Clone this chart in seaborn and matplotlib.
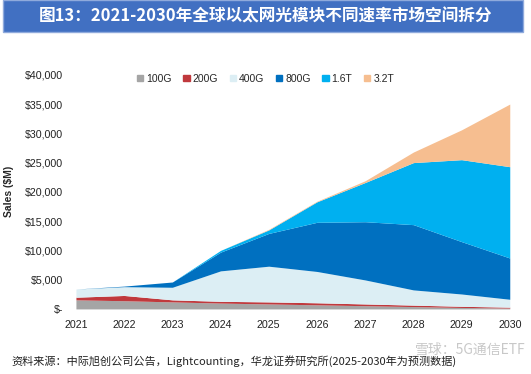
import numpy as np
import pandas as pd
import matplotlib.pyplot as plt
import seaborn as sns
from matplotlib.patches import Patch, Rectangle
from matplotlib.ticker import FuncFormatter

years = [2021, 2022, 2023, 2024, 2025, 2026, 2027, 2028, 2029, 2030]
sales_100g = [1550, 1400, 1200, 1000, 850, 700, 550, 400, 250, 150]
sales_200g = [450, 900, 350, 300, 350, 350, 300, 250, 200, 150]
sales_400g = [1400, 1500, 2150, 5200, 6100, 5350, 4100, 2600, 2100, 1350]
sales_800g = [0, 100, 900, 3200, 5600, 8400, 9950, 11150, 8950, 7050]
sales_1_6t = [0, 0, 0, 300, 600, 3500, 6700, 10600, 14000, 15600]
sales_3_2t = [0, 0, 0, 0, 100, 100, 300, 1800, 5100, 10700]
series_names = ['100G', '200G', '400G', '800G', '1.6T', '3.2T']
colors = ['#A5A5A5', '#C0393D', '#DCEEF4', '#0070C0', '#00B0F0', '#F6BE90']

df = pd.DataFrame({'year': years, '100G': sales_100g, '200G': sales_200g,
                   '400G': sales_400g, '800G': sales_800g,
                   '1.6T': sales_1_6t, '3.2T': sales_3_2t})

sns.set_theme(style="white")
plt.rcParams['font.family'] = ['Liberation Sans', 'Noto Sans CJK SC', 'DejaVu Sans']

fig = plt.figure(figsize=(5.31, 3.74), dpi=100)
ax = fig.add_axes([0.143, 0.174, 0.817, 0.626])
ax.stackplot(df['year'], [df[n] for n in series_names], colors=colors, linewidth=0)

ax.set_xlim(2021, 2030)
ax.set_ylim(0, 40000)
ax.set_xticks(years)
ax.set_yticks(np.arange(0, 40001, 5000))
ax.yaxis.set_major_formatter(FuncFormatter(lambda v, p: '$-' if v == 0 else f'${v:,.0f}'))
ax.tick_params(axis='both', labelsize=7.7, length=0, colors='#222222')
ax.tick_params(axis='y', pad=9)
ax.tick_params(axis='x', pad=8)
ax.set_ylabel('Sales ($M)', fontsize=7.5, fontweight='bold', labelpad=8)
sns.despine(ax=ax, left=True, bottom=True)

handles = [Patch(color=c, label=n) for n, c in zip(series_names, colors)]
fig.legend(handles=handles, loc='center', bbox_to_anchor=(0.5, 0.79), ncol=6,
           frameon=False, fontsize=7.5, handlelength=0.6, handleheight=0.6,
           handletextpad=0.3, columnspacing=1.1)

# title bar
fig.patches.append(Rectangle((0.005, 0.915), 0.98, 0.085, transform=fig.transFigure,
                             facecolor='#4170C2', edgecolor='#8FAADC', linewidth=1))
fig.text(0.5, 0.955, '图13：2021-2030年全球以太网光模块不同速率市场空间拆分',
         ha='center', va='center', color='white', fontsize=12, fontweight='bold',
         family=['Noto Sans CJK SC', 'DejaVu Sans'])

fig.text(0.022, 0.035, '资料来源：中际旭创公司公告，Lightcounting，华龙证券研究所(2025-2030年为预测数据)',
         ha='left', va='center', fontsize=8, color='#222222',
         family=['Noto Sans CJK SC', 'DejaVu Sans'])
fig.text(0.99, 0.065, '雪球：5G通信ETF', ha='right', va='center', fontsize=10,
         color='#BBBBBB', alpha=0.8, family=['Noto Sans CJK SC', 'DejaVu Sans'])

fig.savefig('out.png', dpi=100)
